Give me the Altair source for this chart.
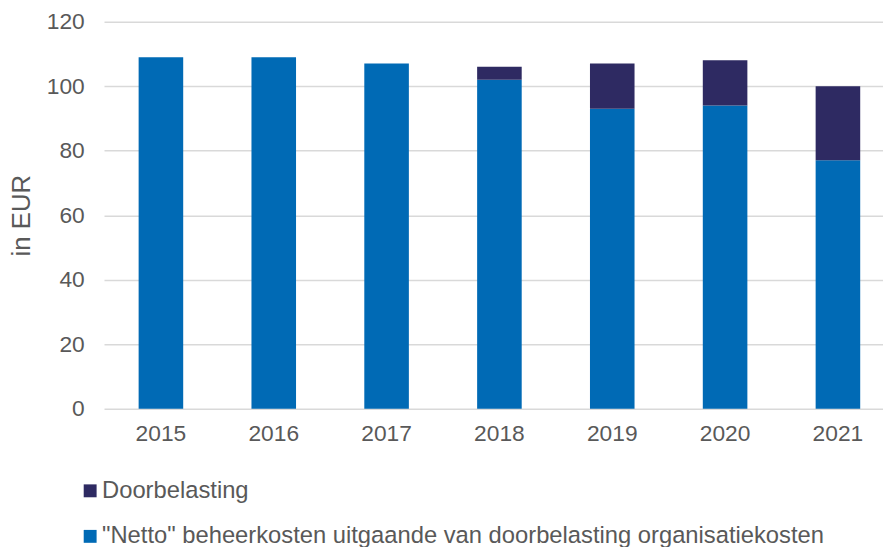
import altair as alt
import pandas as pd

years = ["2015", "2016", "2017", "2018", "2019", "2020", "2021"]
netto = [109, 109, 107, 102, 93, 94, 77]
doorbelasting = [0, 0, 0, 4, 14, 14, 23]
series = ["Doorbelasting", "\"Netto\" beheerkosten uitgaande van doorbelasting organisatiekosten"]
colors = ["#2E2A62", "#006AB5"]

rows = []
for y, n, d in zip(years, netto, doorbelasting):
    rows.append({"year": y, "series": series[1], "value": n, "ord": 0})
    rows.append({"year": y, "series": series[0], "value": d, "ord": 1})
df = pd.DataFrame(rows)

chart = alt.Chart(df).mark_bar().encode(
    x=alt.X("year:N", title=None,
            scale=alt.Scale(paddingInner=0.605, paddingOuter=0.2544, align=0.603),
            axis=alt.Axis(labelAngle=0, domain=False, ticks=False, labelPadding=14)),
    y=alt.Y("value:Q", stack="zero", title="in EUR",
            scale=alt.Scale(domain=[0, 120]),
            axis=alt.Axis(values=[0, 20, 40, 60, 80, 100, 120], domain=False, ticks=False,
                          labelPadding=20, titlePadding=12)),
    color=alt.Color("series:N", scale=alt.Scale(domain=series, range=colors),
                    legend=alt.Legend(title=None, orient="none", direction="vertical",
                                      legendX=-26, legendY=462, symbolType="square",
                                      symbolSize=170, rowPadding=22, labelOffset=0,
                                      labelLimit=900)),
    order=alt.Order("ord:Q"),
).properties(width=787, height=391, padding={"top": 0, "left": 0, "right": 0, "bottom": 0}
).configure_view(stroke=None
).configure_axis(labelFont="Liberation Sans", titleFont="Liberation Sans",
                 labelFontSize=23, titleFontSize=26, labelColor="#595959",
                 titleColor="#595959", titleFontWeight="normal",
                 gridColor="#D9D9D9", gridWidth=1.5
).configure_axisX(grid=False
).configure_legend(labelFont="Liberation Sans", labelFontSize=24, labelColor="#595959",
                   symbolStrokeWidth=0, symbolOpacity=1)

chart.save("out.html", embed_options={"renderer": "svg", "actions": False})
